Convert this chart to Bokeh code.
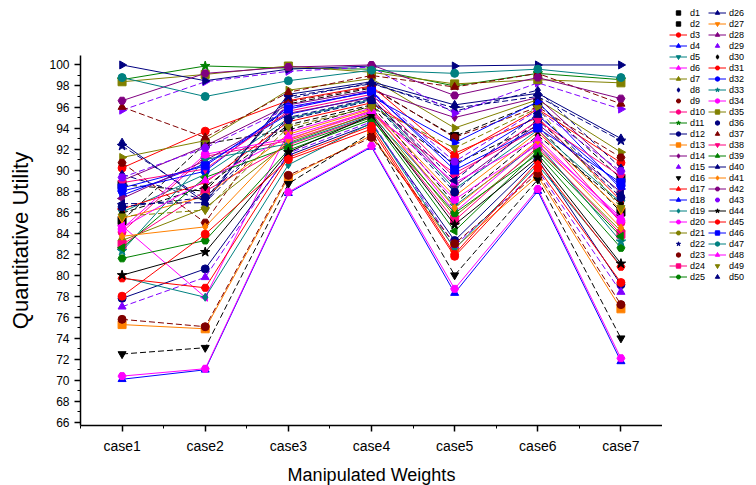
import numpy as np
from bokeh.plotting import figure
from bokeh.layouts import row
from bokeh.models import FixedTicker, Range1d, Legend, LegendItem, ColumnDataSource
from bokeh.embed import file_html
from bokeh.resources import INLINE

cases = ["case1", "case2", "case3", "case4", "case5", "case6", "case7"]
names = ["d1", "d2", "d3", "d4", "d5", "d6", "d7", "d8", "d9", "d10",
         "d11", "d12", "d13", "d14", "d15", "d16", "d17", "d18", "d19", "d20",
         "d21", "d22", "d23", "d24", "d25", "d26", "d27", "d28", "d29", "d30",
         "d31", "d32", "d33", "d34", "d35", "d36", "d37", "d38", "d39", "d40",
         "d41", "d42", "d43", "d44", "d45", "d46", "d47", "d48", "d49", "d50"]

case1 = [88.6, 85.2, 90.2, 70.1, 86.0, 84.7, 91.2, 89.6, 90.7, 84.1,
         98.6, 77.8, 75.3, 89.0, 77.0, 72.5, 86.3, 87.6, 79.8, 70.4,
         83.3, 92.3, 75.8, 82.9, 81.6, 92.6, 85.4, 87.3, 95.7, 85.9,
         79.7, 88.0, 82.3, 84.4, 98.4, 86.5, 96.0, 88.8, 82.6, 100.0,
         83.7, 96.6, 89.3, 80.0, 78.0, 88.3, 98.8, 84.5, 85.6, 86.8]
case2 = [88.0, 92.5, 93.7, 71.0, 89.6, 77.9, 92.8, 87.1, 85.0, 91.3,
         99.9, 80.6, 74.9, 92.3, 79.8, 73.1, 88.8, 90.6, 77.9, 71.1,
         86.4, 87.2, 75.1, 88.0, 83.3, 86.9, 87.5, 90.9, 98.4, 88.4,
         78.8, 89.9, 91.0, 91.5, 99.1, 87.4, 93.1, 90.1, 89.3, 98.5,
         84.6, 99.2, 92.1, 82.2, 83.9, 90.4, 97.0, 89.0, 86.2, 86.9]
case3 = [96.3, 93.8, 96.6, 87.8, 94.9, 93.6, 97.6, 96.8, 96.5, 92.8,
         99.7, 91.4, 89.3, 96.2, 91.6, 88.7, 94.6, 95.3, 90.5, 87.9,
         92.6, 97.0, 89.5, 92.4, 91.9, 97.2, 93.4, 95.4, 99.4, 94.3,
         91.2, 96.0, 92.5, 93.0, 99.9, 94.8, 97.4, 95.6, 92.2, 99.6,
         92.9, 99.8, 95.9, 91.7, 91.0, 95.8, 98.5, 93.2, 94.1, 95.0]
case4 = [97.8, 96.1, 98.0, 92.2, 96.7, 95.9, 98.7, 98.3, 97.9, 95.3,
         99.6, 94.4, 93.3, 97.6, 94.6, 93.6, 96.4, 97.0, 94.5, 92.3,
         95.4, 98.2, 93.1, 95.1, 94.8, 98.4, 95.8, 96.9, 99.8, 96.2,
         94.2, 97.4, 95.2, 95.5, 99.3, 96.6, 99.0, 97.2, 95.0, 99.9,
         95.7, 100.0, 97.5, 95.2, 93.9, 97.5, 99.5, 95.6, 96.0, 96.8]
case5 = [93.2, 90.6, 91.3, 78.3, 88.2, 86.0, 94.0, 95.6, 93.1, 89.7,
         98.0, 83.3, 82.6, 95.0, 82.8, 80.0, 91.6, 92.6, 82.5, 78.7,
         85.6, 95.9, 83.0, 85.2, 85.9, 96.2, 87.5, 88.5, 95.4, 86.8,
         82.0, 90.4, 86.6, 87.2, 98.2, 87.9, 97.9, 89.3, 84.2, 99.9,
         86.4, 97.1, 90.8, 84.8, 81.8, 90.0, 99.2, 88.8, 92.1, 89.0]
case6 = [96.4, 94.2, 95.8, 88.0, 93.8, 92.7, 96.7, 97.6, 96.0, 93.9,
         99.2, 91.0, 89.4, 96.9, 90.0, 89.1, 95.0, 96.5, 90.5, 88.2,
         92.0, 97.0, 89.7, 92.2, 91.5, 97.3, 93.6, 94.4, 98.3, 93.3,
         90.8, 95.2, 92.5, 92.4, 98.6, 94.8, 99.2, 94.7, 91.8, 100.0,
         92.8, 98.8, 95.7, 91.2, 90.2, 94.0, 99.6, 93.0, 95.9, 95.4]
case7 = [89.2, 86.0, 90.7, 71.8, 86.9, 85.5, 91.7, 90.2, 91.2, 85.0,
         98.6, 79.1, 76.8, 89.6, 78.4, 74.0, 87.1, 88.2, 80.9, 72.1,
         84.2, 92.8, 77.2, 83.9, 82.6, 93.0, 86.2, 87.9, 95.8, 86.8,
         80.8, 88.5, 83.2, 85.2, 98.3, 87.4, 96.3, 89.4, 83.7, 100.0,
         84.5, 96.8, 89.9, 81.1, 79.3, 88.8, 98.8, 85.3, 86.4, 87.7]

y_ticks = [66, 68, 70, 72, 74, 76, 78, 80, 82, 84, 86, 88, 90, 92, 94, 96, 98, 100]

# styles
BLACK, RED, BLUE, TEAL, MAG, OLIVE = "#000000", "#FF0000", "#0000FF", "#008080", "#FF00FF", "#808000"
NAVY, VIOLET, PURPLE, MAROON, PINK, GREEN, ORANGE = "#000080", "#8000FF", "#800080", "#800000", "#FF0080", "#008000", "#FF8000"
colors = [BLACK, BLACK, RED, BLUE, TEAL, MAG, OLIVE, NAVY, MAROON, PINK,
          GREEN, NAVY, ORANGE, PURPLE, VIOLET, BLACK, RED, BLUE, TEAL, MAG,
          OLIVE, NAVY, MAROON, PINK, GREEN, NAVY, ORANGE, PURPLE, VIOLET, BLACK,
          RED, BLUE, TEAL, MAG, OLIVE, NAVY, MAROON, PINK, GREEN, NAVY,
          ORANGE, PURPLE, VIOLET, BLACK, RED, BLUE, TEAL, MAG, OLIVE, NAVY]
markers = ["square", "square", "circle", "triangle", "inverted_triangle", "left", "right", "diamond", "hex", "circle",
           "star", "circle", "square", "diamond", "triangle", "inverted_triangle", "left", "right", "diamond", "hex",
           "hex", "star", "circle", "square", "hex", "triangle", "inverted_triangle", "left", "right", "diamond",
           "hex", "circle", "star", "circle", "square", "circle", "triangle", "inverted_triangle", "left", "right",
           "diamond", "hex", "hex", "star", "circle", "square", "circle", "triangle", "inverted_triangle", "left"]
no_legend_line = {"d1", "d2", "d8", "d9", "d15", "d16", "d22", "d23", "d29", "d30",
                  "d36", "d37", "d43", "d49", "d50"}

FONT = "Liberation Sans"

p = figure(frame_width=582, frame_height=370,
           x_range=Range1d(0.5, 7.5), y_range=Range1d(65.7, 100.9),
           output_backend="svg", toolbar_location=None,
           min_border_left=80, min_border_top=55, min_border_bottom=60, min_border_right=0)
p.xgrid.visible = False
p.ygrid.visible = False
p.outline_line_color = None

# separate legend panel (frame not aligned to the main plot's frame)
lp = figure(width=94, height=485, x_range=Range1d(0, 1), y_range=Range1d(0, 1),
            x_axis_location=None, y_axis_location=None,
            output_backend="svg", toolbar_location=None, min_border=0)
lp.frame_align = False
lp.xgrid.visible = False
lp.ygrid.visible = False
lp.outline_line_color = None

xs = [1, 2, 3, 4, 5, 6, 7]
items = []
for i, nm in enumerate(names):
    ys = [case1[i], case2[i], case3[i], case4[i], case5[i], case6[i], case7[i]]
    src = ColumnDataSource(dict(x=xs, y=ys))
    c = colors[i]
    dashed = nm in no_legend_line
    m = markers[i]
    ang = 0.0
    if m == "left":
        m, ang = "triangle", np.pi / 2
    elif m == "right":
        m, ang = "triangle", -np.pi / 2
    sz = 10 if m == "star" else 8
    p.line("x", "y", source=src, line_color=c, line_width=1,
           line_dash="6 3" if dashed else "solid")
    p.scatter("x", "y", source=src, marker=m, size=sz, angle=ang,
              fill_color=c, line_color=c)
    # legend proxies, placed outside the legend panel's visible range
    lsrc = ColumnDataSource(dict(x=[-10.0], y=[-10.0]))
    lln = lp.line("x", "y", source=lsrc, line_color=c, line_width=1)
    lsc = lp.scatter("x", "y", source=lsrc, marker=m, size=sz - 1, angle=ang,
                     fill_color=c, line_color=c)
    items.append(LegendItem(label=nm, renderers=[lsc] if dashed else [lln, lsc]))


def make_legend(its, loc):
    return Legend(items=its, location=loc, orientation="vertical",
                  glyph_width=18, glyph_height=11, label_height=11, spacing=0,
                  padding=2, margin=5, label_standoff=3,
                  label_text_font=FONT, label_text_font_size="9px", label_text_color="black",
                  background_fill_alpha=0, border_line_alpha=0)


lp.add_layout(make_legend(items[:25], "top_left"))
lp.add_layout(make_legend(items[25:], "top_right"))

# axes
p.xaxis.ticker = FixedTicker(ticks=xs, minor_ticks=[0.5, 1.5, 2.5, 3.5, 4.5, 5.5, 6.5, 7.5])
p.xaxis.major_label_overrides = {x: c for x, c in zip(xs, cases)}
p.yaxis.ticker = FixedTicker(ticks=y_ticks, minor_ticks=[t + 1 for t in y_ticks] + [65])
for ax in (p.xaxis[0], p.yaxis[0]):
    ax.axis_line_width = 1.5
    ax.axis_line_color = "black"
    ax.major_tick_in = 0
    ax.major_tick_out = 6
    ax.minor_tick_in = 0
    ax.minor_tick_out = 3
    ax.major_tick_line_width = 1.5
    ax.major_tick_line_color = "black"
    ax.minor_tick_line_color = "black"
    ax.major_label_text_font = FONT
    ax.major_label_text_color = "black"
    ax.axis_label_text_font = FONT
    ax.axis_label_text_font_style = "normal"
    ax.axis_label_text_color = "black"

p.xaxis.axis_label = "Manipulated Weights"
p.xaxis.axis_label_text_font_size = "18px"
p.xaxis.major_label_text_font_size = "14px"
p.xaxis.major_label_standoff = 6
p.xaxis.axis_label_standoff = 8
p.yaxis.axis_label = "Quantitative Utility"
p.yaxis.axis_label_text_font_size = "22px"
p.yaxis.major_label_text_font_size = "12px"
p.yaxis.major_label_standoff = 5
p.yaxis.axis_label_standoff = 13

layout = row(p, lp, spacing=0)
open("out.html", "w").write(file_html(layout, INLINE))
